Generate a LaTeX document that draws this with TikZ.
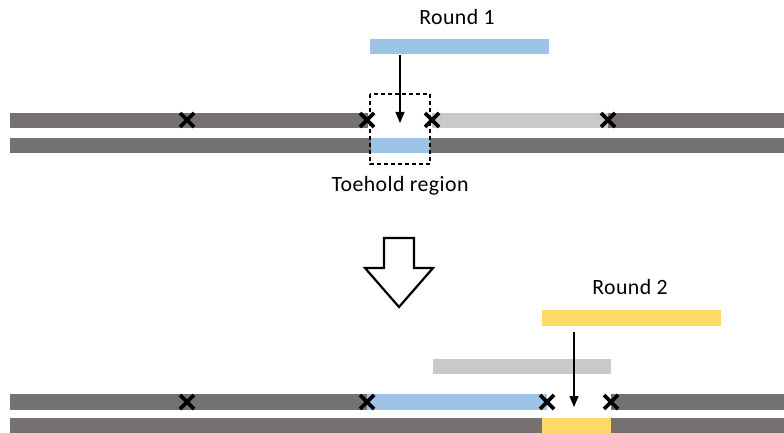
\documentclass[tikz,border=0pt]{standalone}
\usepackage{fontspec}
\setmainfont[LetterSpace=2.0]{Carlito}
\usetikzlibrary{arrows.meta}
\definecolor{dgrey}{HTML}{767171}
\definecolor{lgrey}{HTML}{C9C9C9}
\definecolor{lblue}{HTML}{9DC3E6}
\definecolor{lyel}{HTML}{FFD966}
\begin{document}
\begin{tikzpicture}[x=1pt,y=-1pt,
  lbl/.style={font=\fontsize{21.8}{26}\selectfont, inner sep=0pt},
  cut/.style={line width=3.6pt},
  arr/.style={line width=1.3pt, -{Triangle[length=11pt,width=9pt]}},
  toebox/.style={draw, line width=1.3pt, dash pattern=on 4pt off 3pt}]
\useasboundingbox (0,0) rectangle (784,433);
% cross marker
\newcommand{\cutmark}[2]{\draw[cut] (#1-7,#2-7) -- (#1+7,#2+7) (#1-7,#2+7) -- (#1+7,#2-7);}
% ---------- Top ----------
\node[lbl] (r1) at (457,17) {Round 1};
\fill[lblue] (370,39) rectangle (549,54);
\coordinate (r1a) at (400,55);
\coordinate (r1b) at (400,123);
% upper strand
\fill[dgrey] (10,113) rectangle (368,128);
\fill[lgrey] (432,113) rectangle (608,128);
\fill[dgrey] (608,113) rectangle (784,128);
% lower strand
\fill[dgrey] (10,138) rectangle (371,153);
\fill[lblue] (371,138) rectangle (430,153);
\fill[dgrey] (430,138) rectangle (784,153);
\draw[toebox] (370,94) rectangle (430,164);
\draw[arr] (r1a) -- (r1b);
\cutmark{187}{120}
\cutmark{367}{120}
\cutmark{432}{120}
\cutmark{608}{120}
\node[lbl] (toe) at (400,186) {Toehold region};
% ---------- big hollow arrow ----------
\draw[line width=2.2pt, line join=miter, fill=white]
  (384,238) -- (414,238) -- (414,268) -- (433,268) -- (399,307) -- (365,268) -- (384,268) -- cycle;
% ---------- Bottom ----------
\node[lbl] (r2) at (630,287) {Round 2};
\fill[lyel] (542,310) rectangle (721,326);
\fill[lgrey] (433,359) rectangle (611,374);
\coordinate (r2a) at (574,332);
\coordinate (r2b) at (574,407);
% upper strand
\fill[dgrey] (10,394) rectangle (367,410);
\fill[lblue] (367,394) rectangle (547,410);
\fill[dgrey] (611,394) rectangle (784,410);
% lower strand
\fill[dgrey] (10,418) rectangle (542,433);
\fill[lyel] (542,418) rectangle (611,433);
\fill[dgrey] (611,418) rectangle (784,433);
\draw[arr] (r2a) -- (r2b);
\cutmark{187}{402}
\cutmark{367}{402}
\cutmark{547}{402}
\cutmark{611}{402}
\end{tikzpicture}
\end{document}
